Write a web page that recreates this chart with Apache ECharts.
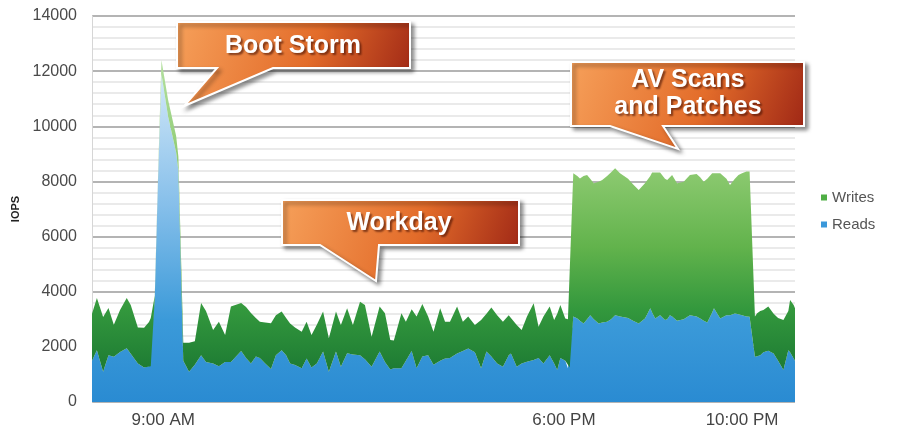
<!DOCTYPE html>
<html>
<head>
<meta charset="utf-8">
<title>IOPS</title>
<script src="https://cdn.jsdelivr.net/npm/echarts@6/dist/echarts.min.js"></script>
<style>
  html, body { margin: 0; padding: 0; background: #fff; }
  #chart { width: 899px; height: 429px; }
</style>
</head>
<body>
<div id="chart"></div>
<script>
// time of day in hours
var hours = [7.40,7.51,7.65,7.77,7.89,8.03,8.18,8.27,8.43,8.57,8.68,8.72,8.81,8.88,8.96,9.11,9.29,9.34,9.45,9.58,
  9.71,9.85,9.96,10.12,10.25,10.39,10.52,10.75,10.86,10.97,11.08,11.17,11.29,11.42,11.53,11.66,11.76,11.85,11.96,12.11,
  12.22,12.33,12.45,12.59,12.72,12.88,12.99,13.13,13.26,13.42,13.53,13.68,13.86,13.98,14.10,14.18,14.35,14.45,14.58,14.69,
  14.82,14.95,15.07,15.22,15.33,15.44,15.60,15.73,15.85,16.00,16.14,16.26,16.37,16.50,16.63,16.76,16.81,16.94,17.05,17.17,
  17.32,17.43,17.54,17.68,17.78,17.85,17.92,18.03,18.09,18.13,18.21,18.30,18.36,18.44,18.52,18.59,18.67,18.78,18.86,18.97,
  19.06,19.15,19.26,19.44,19.55,19.68,19.82,19.94,19.98,20.05,20.16,20.27,20.32,20.38,20.43,20.54,20.69,20.83,20.98,21.06,
  21.14,21.22,21.33,21.37,21.51,21.65,21.73,21.84,21.92,22.00,22.10,22.17,22.29,22.34,22.41,22.48,22.59,22.71,22.81,22.93,
  23.04,23.08,23.16,23.19];

var reads = [1500,1880,1100,1700,1640,1810,1950,1750,1400,1250,1300,1300,3750,7900,11900,10350,9050,8400,1500,1100,
  1350,1700,1450,1400,1300,1450,1450,1850,1600,1400,1650,1600,1400,1200,1700,1880,1700,1400,1340,1220,
  1580,1250,1400,1830,1100,1830,1280,1770,1720,1700,1550,1280,1830,1450,1180,1220,1220,1500,1850,1220,
  1650,1700,1350,1500,1580,1600,1760,1850,1940,1800,1220,1830,1650,1400,1280,1700,1760,1280,1400,1460,
  1520,1600,1400,1700,1400,1160,1600,1500,1220,1250,3100,3030,2950,2850,3000,3150,3000,2850,2880,2910,
  3000,3150,3100,3050,2950,2850,3030,3400,3250,3030,3150,2970,3000,3150,3100,2950,3000,3150,3100,3030,
  2950,2880,3250,3400,3030,3150,3150,3210,3180,3150,3100,3090,1640,1660,1700,1800,1860,1760,1500,1160,
  1880,1800,1580,1500];

var writes = [1700,1890,1980,1710,1160,1530,1820,1770,1300,1440,1600,1750,100,100,500,600,600,500,650,1050,
  850,1890,1850,1210,1610,980,2010,1740,1850,1830,1400,1310,1480,1660,1450,1400,1350,1450,1360,1330,
  1330,1180,1400,1450,1210,1450,1510,1630,1070,1940,1970,1090,1630,1770,1070,1010,2000,1410,1510,1880,
  1900,1400,1200,1900,1330,1310,1700,1060,1160,990,1750,1370,1780,1750,1630,1450,1290,1510,1210,1640,
  2060,1130,1700,1760,1570,2040,1920,1530,1780,1750,5200,5170,5160,5350,5230,4950,4930,5140,5170,5290,
  5330,5330,5200,5050,4950,4840,4900,4800,5070,5290,5170,5130,5050,5000,5130,4980,4990,5080,5170,5120,
  5040,5220,5050,4900,5270,4950,4720,4890,5050,5150,5260,5270,1460,1560,1600,1540,1600,1440,1550,1810,
  1420,1900,1940,1900];

var tickHours = [9, 18, 22];
var tickLabels = ['9:00 AM', '6:00 PM', '10:00 PM'];

// rows are [iops, hour]; value dimension first so the stack sums it, not the hour
function rows(ys) {
  var out = [];
  for (var i = 0; i < hours.length; i++) out.push([ys[i], hours[i]]);
  return out;
}

var chart = echarts.init(document.getElementById('chart'));
var LG = echarts.graphic.LinearGradient;

function bubbleStyle() {
  return {
    fill: new LG(0, 0, 1, 1, [
      { offset: 0, color: '#f6a05a' },
      { offset: 0.55, color: '#e36c2a' },
      { offset: 1, color: '#9a2214' }
    ]),
    stroke: '#ffffff', lineWidth: 2,
    shadowColor: 'rgba(0,0,0,0.45)', shadowBlur: 4, shadowOffsetX: 3, shadowOffsetY: 3
  };
}
function bubbleText(txt, x, y) {
  return {
    type: 'text', z: 101, x: x, y: y,
    style: {
      text: txt, fill: '#ffffff', font: 'bold 25px "Liberation Sans", Arial, sans-serif',
      align: 'center', verticalAlign: 'middle', lineHeight: 27,
      textShadowColor: 'rgba(60,10,0,0.6)', textShadowBlur: 2, textShadowOffsetX: 2, textShadowOffsetY: 2
    }
  };
}

chart.setOption({
  animation: false,
  grid: { left: 92, right: 104, top: 16, bottom: 27 },
  legend: {
    data: ['Writes', 'Reads'],
    orient: 'vertical',
    left: 816, top: 185,
    icon: 'rect', itemWidth: 6, itemHeight: 6, itemGap: 12,
    textStyle: { fontSize: 15, color: '#555', fontFamily: 'Liberation Sans, Arial, sans-serif' }
  },
  xAxis: {
    type: 'value', min: 7.40, max: 23.19,
    axisLine: { show: false },
    axisTick: { show: false },
    splitLine: { show: false },
    axisLabel: {
      customValues: tickHours,
      formatter: function (v) {
        var i = tickHours.indexOf(v);
        return i >= 0 ? tickLabels[i] : '';
      },
      fontSize: 17, color: '#444', margin: 10,
      fontFamily: 'Liberation Sans, Arial, sans-serif'
    }
  },
  yAxis: {
    type: 'value', min: 0, max: 14000, interval: 2000,
    name: 'IOPS', nameLocation: 'middle', nameRotate: 90, nameGap: 63,
    nameTextStyle: { fontSize: 11, fontWeight: 'bold', color: '#222', fontFamily: 'Liberation Sans, Arial, sans-serif' },
    axisLine: { show: true, lineStyle: { color: '#d6d6d6', width: 1 } },
    axisTick: { show: false },
    axisLabel: {
      fontSize: 16, color: '#4a4a4a', margin: 15, fontFamily: 'Liberation Sans, Arial, sans-serif',
      formatter: function (v) { return String(v); }
    },
    splitLine: { lineStyle: { color: '#b4b4b4', width: 2 } },
    minorTick: { show: false, splitNumber: 5 },
    minorSplitLine: { show: true, lineStyle: { color: '#e4e4e4', width: 1.5 } }
  },
  series: [
    {
      name: 'Reads', type: 'line', stack: 'io', data: rows(reads),
      encode: { x: 1, y: 0 },
      showSymbol: false, symbol: 'none', lineStyle: { width: 0 },
      itemStyle: { color: '#3a98da' },
      areaStyle: {
        opacity: 1,
        color: new LG(0, 0, 0, 1, [
          { offset: 0, color: '#d2e8f8' },
          { offset: 0.4, color: '#86bfea' },
          { offset: 0.75, color: '#3b9ad9' },
          { offset: 1, color: '#2a8bd2' }
        ])
      }
    },
    {
      name: 'Writes', type: 'line', stack: 'io', data: rows(writes),
      encode: { x: 1, y: 0 },
      showSymbol: false, symbol: 'none', lineStyle: { width: 0 },
      itemStyle: { color: '#4fae45' },
      areaStyle: {
        opacity: 1,
        color: new LG(0, 0, 0, 1, [
          { offset: 0, color: '#b4e0a0' },
          { offset: 0.36, color: '#8bc96f' },
          { offset: 0.6, color: '#62b34c' },
          { offset: 0.8, color: '#33983d' },
          { offset: 1, color: '#1d7a33' }
        ])
      }
    }
  ],
  graphic: [
    { type: 'polygon', z: 100, shape: { points: [[177,22],[410,22],[410,68],[273,68],[184,106],[217,68],[177,68]] }, style: bubbleStyle() },
    bubbleText('Boot Storm', 293, 46),
    { type: 'polygon', z: 100, shape: { points: [[282,200],[519,200],[519,245],[379,245],[376,281],[320,245],[282,245]] }, style: bubbleStyle() },
    bubbleText('Workday', 399, 223),
    { type: 'polygon', z: 100, shape: { points: [[571,62],[804,62],[804,126],[663,126],[678,149],[610,126],[571,126]] }, style: bubbleStyle() },
    bubbleText('AV Scans\nand Patches', 688, 94)
  ]
});
</script>
</body>
</html>
